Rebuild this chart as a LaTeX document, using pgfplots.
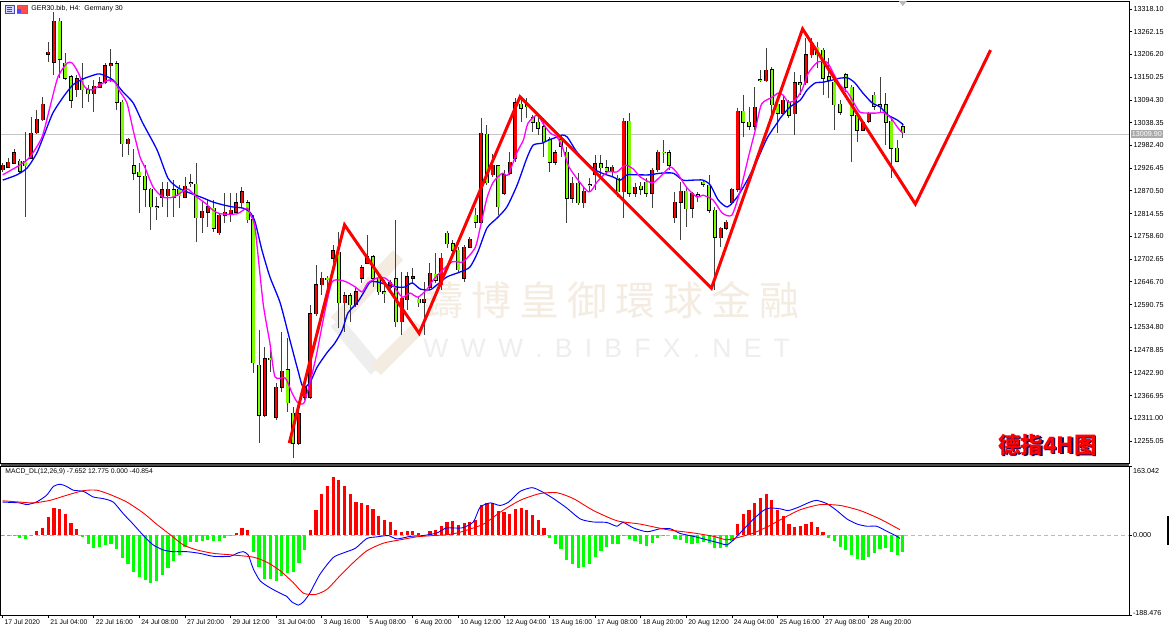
\documentclass[border=0pt]{standalone}
\usepackage{fontspec}
\setmainfont{Liberation Sans}
\newfontfamily\cjksc{Noto Sans CJK SC}
\newfontfamily\cjktc{Noto Sans CJK TC}
\usepackage{pgfplots}
\usepackage{pgfplotstable}
\pgfplotsset{compat=1.18}

\definecolor{candleup}{RGB}{255,0,0}
\definecolor{candledn}{RGB}{124,252,0}
\definecolor{histup}{RGB}{255,0,0}
\definecolor{histdn}{RGB}{0,255,0}
\definecolor{wmbeige}{RGB}{245,236,225}
\definecolor{wmgray}{RGB}{238,238,238}
\definecolor{maslow}{RGB}{0,0,255}
\definecolor{mafast}{RGB}{255,0,255}
\definecolor{pricebox}{RGB}{170,170,170}

% H4 candles, index i = bar number
\pgfplotstableread{
i o h l c
0 12922 12939 12917 12934
1 12929 12951 12927 12941
2 12939 12973 12937 12964
3 12944 12949 12914 12919
4 12944 13015 12806 12932
5 12951 13052 12949 13013
6 13013 13069 13010 13047
7 13045 13101 13042 13084
8 13207 13237 13187 13212
9 13187 13311 13156 13288
10 13288 13296 13148 13195
11 13185 13210 13143 13148
12 13151 13156 13074 13094
13 13119 13156 13101 13146
14 13146 13185 13074 13119
15 13119 13131 13089 13109
16 13109 13143 13064 13128
17 13126 13151 13124 13136
18 13138 13185 13133 13178
19 13178 13219 13138 13183
20 13183 13190 13069 13089
21 13089 13094 12954 12986
22 12986 13001 12959 12998
23 12932 12973 12897 12914
24 12917 12939 12816 12907
25 12907 12934 12831 12875
26 12875 12878 12774 12831
27 12831 12855 12799 12829
28 12855 12892 12831 12873
29 12858 12892 12806 12875
30 12873 12897 12806 12855
31 12875 12885 12828 12858
32 12855 12905 12853 12882
33 12890 12912 12880 12888
34 12887 12939 12745 12804
35 12804 12843 12767 12821
36 12818 12848 12782 12831
37 12828 12848 12769 12779
38 12767 12816 12762 12811
39 12811 12865 12791 12818
40 12816 12865 12794 12823
41 12818 12865 12816 12841
42 12841 12880 12831 12868
43 12841 12848 12791 12799
44 12799 12811 12422 12447
45 12442 12528 12250 12319
46 12319 12486 12314 12457
47 12459 12484 12425 12457
48 12314 12398 12307 12388
49 12388 12523 12376 12427
50 12430 12509 12326 12349
51 12324 12339 12213 12250
52 12250 12339 12245 12322
53 12363 12398 12356 12386
54 12363 12590 12358 12568
55 12568 12688 12563 12639
56 12639 12671 12614 12656
57 12656 12661 12632 12654
58 12705 12737 12693 12723
59 12720 12769 12533 12595
60 12595 12622 12523 12612
61 12612 12619 12548 12590
62 12590 12632 12585 12622
63 12656 12688 12644 12681
64 12693 12762 12691 12708
65 12708 12713 12634 12656
66 12656 12664 12614 12622
67 12622 12651 12595 12619
68 12632 12651 12622 12646
69 12654 12799 12536 12548
70 12548 12671 12516 12607
71 12602 12671 12577 12659
72 12656 12681 12644 12659
73 12604 12609 12585 12595
74 12597 12646 12516 12604
75 12634 12693 12627 12668
76 12666 12718 12644 12651
77 12639 12718 12627 12705
78 12767 12772 12730 12740
79 12740 12750 12718 12725
80 12725 12732 12671 12676
81 12656 12737 12646 12732
82 12732 12757 12730 12752
83 12811 12828 12779 12794
84 12794 13050 12791 13013
85 13010 13033 12885 12890
86 12910 12961 12905 12934
87 12932 12934 12811 12831
88 12865 12922 12860 12910
89 12914 12966 12910 12941
90 12951 13099 12941 13087
91 13084 13101 13040 13074
92 13082 13099 13050 13077
93 13050 13057 13015 13040
94 13040 13052 13008 13025
95 13028 13050 12954 12991
96 12996 13003 12917 12941
97 12941 12971 12934 12964
98 12996 13008 12954 12981
99 12966 12978 12791 12853
100 12853 12905 12841 12890
101 12890 12915 12836 12841
102 12841 12880 12828 12870
103 12886 12902 12868 12884
104 12910 12959 12873 12937
105 12937 12959 12905 12927
106 12927 12946 12910 12919
107 12919 12934 12905 12929
108 12902 12910 12855 12868
109 12868 13050 12804 13042
110 13042 13062 12855 12865
111 12865 12890 12855 12880
112 12882 12892 12860 12875
113 12892 12902 12855 12865
114 12865 12927 12828 12922
115 12922 12971 12917 12966
116 12966 12996 12939 12964
117 12964 12971 12922 12934
118 12804 12868 12791 12843
119 12843 12892 12750 12870
120 12870 12878 12782 12826
121 12828 12868 12804 12865
122 12861 12868 12843 12858
123 12892 12897 12880 12887
124 12885 12910 12816 12823
125 12823 12831 12627 12757
126 12755 12782 12732 12779
127 12779 12799 12774 12794
128 12841 12878 12836 12875
129 12875 13074 12868 13067
130 13067 13106 13003 13040
131 13040 13077 13020 13030
132 13030 13126 13020 13077
133 13144 13168 13138 13141
134 13141 13222 13138 13168
135 13168 13175 13057 13082
136 13084 13094 13013 13062
137 13062 13106 13057 13094
138 13089 13094 13050 13057
139 13060 13163 13008 13136
140 13136 13156 13106 13133
141 13136 13246 13131 13205
142 13205 13246 13197 13234
143 13224 13237 13173 13205
144 13217 13222 13106 13148
145 13151 13197 13099 13143
146 13138 13148 13020 13082
147 13084 13094 13057 13064
148 13156 13160 13114 13126
149 13126 13131 12941 13057
150 13057 13064 12991 13020
151 13020 13045 13020 13040
152 13042 13064 13037 13062
153 13106 13114 13069 13079
154 13082 13151 13064 13079
155 13082 13111 12983 13040
156 13042 13050 12902 12976
157 12976 12996 12941 12944
158 13028 13037 13001 13013
}\candles

% MACD histogram
\pgfplotstableread{
i v
0 -2
1 -1
2 -2
3 -7
4 -8
5 -1
6 9
7 18
8 42
9 64
10 62
11 50
12 28
13 14
14 -4
15 -21
16 -31
17 -28
18 -23
19 -20
20 -33
21 -55
22 -67
23 -86
24 -98
25 -106
26 -112
27 -108
28 -94
29 -77
30 -61
31 -46
32 -28
33 -17
34 -17
35 -15
36 -12
37 -15
38 -13
39 -7
40 -2
41 5
42 16
43 13
44 -39
45 -76
46 -104
47 -104
48 -108
49 -96
50 -90
51 -88
52 -65
53 -35
54 13
55 60
56 97
57 117
58 137
59 129
60 117
61 96
62 78
63 76
64 72
65 62
66 46
67 35
68 30
69 12
70 8
71 10
72 10
73 5
74 -1
75 10
76 11
77 21
78 32
79 33
80 24
81 29
82 30
83 35
84 70
85 76
86 76
87 56
88 54
89 50
90 62
91 63
92 59
93 47
94 35
95 17
96 -7
97 -21
98 -33
99 -59
100 -67
101 -77
102 -76
103 -67
104 -51
105 -37
106 -28
107 -20
108 -22
109 -1
110 -8
111 -15
112 -21
113 -25
114 -19
115 -7
116 -1
117 0
118 -9
119 -12
120 -19
121 -21
122 -19
123 -17
124 -19
125 -31
126 -31
127 -27
128 -13
129 26
130 50
131 60
132 76
133 88
134 98
135 82
136 60
137 46
138 27
139 19
140 21
141 27
142 30
143 19
144 7
145 -7
146 -15
147 -29
148 -35
149 -46
150 -57
151 -59
152 -51
153 -43
154 -33
155 -31
156 -39
157 -47
158 -39
}\hist

\newcommand{\tk}{\fontsize{3.6}{4}\selectfont}
\newcommand{\wsp}{\hspace{6.1pt}}

\begin{document}
\begin{tikzpicture}
\fill[white] (0,0) rectangle (585pt,-314.5pt);
\useasboundingbox (0,0) rectangle (585pt,-314.5pt);

% watermark (pixel grid: 1px = 0.5pt)
\begin{scope}[x=0.5pt,y=-0.5pt]
  \draw[wmbeige, line width=7pt] (398,255) -- (336,322);
  \draw[wmgray, line width=7pt] (336,322) -- (376,370);
  \draw[wmbeige, line width=7pt] (376,370) -- (420,326);
  \node[anchor=west, inner sep=0pt, text=wmbeige,
        font=\cjktc\fontsize{20}{20}\selectfont] at (423,300)
    {鑄\hspace{4pt}博\hspace{4pt}皇\hspace{4pt}御\hspace{4pt}環\hspace{4pt}球\hspace{4pt}金\hspace{4pt}融};
  \node[anchor=west, inner sep=0pt, text=wmgray,
        font=\fontsize{13.3}{14}\selectfont] at (423,348)
    {W\wsp W\wsp W\wsp .\wsp B\wsp I\wsp B\wsp F\wsp X\wsp .\wsp N\wsp E\wsp T};
\end{scope}

% price panel
\begin{axis}[
    at={(0.5pt,-0.5pt)}, anchor=north west,
    width=564pt, height=231pt, scale only axis,
    xmin=-0.3, xmax=197.7,
    ymin=12200.9, ymax=13337.7,
    xtick=\empty,
    ytick={12255.05,12311.00,12366.95,12422.90,12478.85,12534.80,12590.75,
           12646.70,12702.65,12758.60,12814.55,12870.50,12926.45,12982.40,
           13038.35,13094.30,13150.25,13206.20,13262.15,13318.10},
    ytick pos=right, yticklabel pos=right,
    scaled y ticks=false,
    tick align=outside, major tick length=1.5pt,
    every tick/.style={black, line width=0.4pt},
    yticklabel style={anchor=west, inner sep=0.6pt, font=\tk,
        /pgf/number format/fixed, /pgf/number format/fixed zerofill,
        /pgf/number format/precision=2, /pgf/number format/1000 sep={},
        /pgf/number format/assume math mode=true},
    axis line style={black, line width=0.5pt},
    clip mode=individual,
]
% current price line
\addplot[gray!45, line width=0.5pt] coordinates {(-0.3,13009.9) (197.7,13009.9)};

% wicks
\addplot[draw=none, mark=none,
    error bars/.cd, y dir=both, y explicit, error mark=none,
    error bar style={draw=black!75, line width=0.5pt}]
  table[x=i, y expr={(\thisrow{h}+\thisrow{l})/2},
        y error expr={(\thisrow{h}-\thisrow{l})/2}] {\candles};
% body outlines
\addplot[draw=none, mark=none,
    error bars/.cd, y dir=both, y explicit, error mark=none,
    error bar style={draw=black, line width=2pt}]
  table[x=i, y expr={(\thisrow{o}+\thisrow{c})/2},
        y error expr={abs(\thisrow{c}-\thisrow{o})/2+1.2}] {\candles};
% rising bodies
\addplot[draw=none, mark=none,
    restrict expr to domain={\thisrow{c}-\thisrow{o}}{0:5000},
    error bars/.cd, y dir=both, y explicit, error mark=none,
    error bar style={draw=candleup, line width=1.2pt}]
  table[x=i, y expr={(\thisrow{o}+\thisrow{c})/2},
        y error expr={(\thisrow{c}-\thisrow{o})/2}] {\candles};
% falling bodies
\addplot[draw=none, mark=none,
    restrict expr to domain={\thisrow{o}-\thisrow{c}}{0:5000},
    error bars/.cd, y dir=both, y explicit, error mark=none,
    error bar style={draw=candledn, line width=1.2pt}]
  table[x=i, y expr={(\thisrow{o}+\thisrow{c})/2},
        y error expr={(\thisrow{o}-\thisrow{c})/2}] {\candles};

% slow MA
\addplot[maslow, line width=0.65pt, smooth, tension=0.4] coordinates {
(0,12897) (2.5,12910) (4.3,12927) (6.0,12964) (7.4,13013) (8.8,13062)
(10.6,13101) (12.3,13131) (14.1,13146) (16.6,13158) (17.6,13156) (19.4,13143)
(21.1,13114) (22.9,13087) (24.6,13037) (27.1,12971) (29.0,12902) (30.8,12878)
(32.9,12865) (35.2,12853) (36.9,12843) (38.7,12836) (40.4,12831) (42.2,12828)
(43.4,12818) (44.3,12794) (45.5,12725) (46.9,12659) (48.7,12595) (50.4,12504)
(51.8,12430) (52.7,12388) (53.9,12398) (55.2,12437) (56.9,12472) (58.3,12496)
(59.6,12528) (60.6,12570) (62.2,12595) (63.3,12619) (64.5,12646) (65.9,12646)
(67.5,12639) (69.2,12634) (70.6,12634) (71.9,12644) (73.3,12629) (75.0,12627)
(76.2,12639) (78.0,12659) (80.3,12671) (82.0,12683) (83.4,12720) (85.0,12779)
(86.8,12804) (88.5,12831) (90.3,12885) (92.0,12951) (93.1,12983) (94.7,12988)
(95.9,12996) (97.3,13003) (98.2,13008) (99.1,13003) (100.8,12966) (103.5,12927)
(105.2,12914) (107.1,12905) (108.4,12897) (109.6,12910) (111.4,12910) (113.6,12910)
(115.4,12914) (117.7,12914) (119.4,12897) (121.2,12897) (122.9,12897) (124.2,12885)
(125.6,12848) (127.2,12831) (128.9,12855) (130.7,12897) (132.4,12945) (134.2,13001)
(135.9,13037) (136.5,13050) (138.2,13077) (140.0,13094) (141.2,13119) (142.6,13136)
(144.0,13138) (145.6,13143) (147.0,13148) (148.4,13148) (149.6,13136) (151.0,13111)
(152.6,13087) (154.0,13077) (155.4,13057) (157.0,13045) (158.1,13033)
};
% fast MA
\addplot[mafast, line width=0.65pt, smooth, tension=0.4] coordinates {
(0,12910) (3.0,12934) (4.8,12954) (6.9,13003) (8.3,13077) (9.7,13151)
(11.3,13185) (12.2,13185) (13.2,13163) (14.4,13126) (15.7,13119) (17.1,13131)
(18.5,13143) (19.7,13138) (20.6,13114) (21.8,13087) (22.9,13020) (24.1,12954)
(25.0,12927) (26.4,12880) (28.1,12855) (29.9,12855) (31.5,12868) (32.5,12875)
(34.1,12855) (35.5,12841) (36.9,12823) (38.2,12814) (41.1,12814) (42.9,12828)
(43.6,12808) (44.3,12779) (45.7,12595) (46.9,12496) (47.8,12413) (49.6,12410)
(50.8,12373) (51.8,12349) (52.9,12349) (53.9,12398) (55.0,12462) (56.6,12577)
(57.8,12646) (59.2,12651) (60.4,12646) (61.9,12634) (63.1,12622) (64.1,12644)
(65.7,12656) (67.1,12656) (68.5,12639) (70.1,12609) (71.5,12619) (72.9,12609)
(74.5,12629) (75.5,12650) (76.9,12671) (78.9,12696) (80.8,12696) (82.9,12730)
(83.8,12779) (85.0,12853) (86.1,12892) (87.7,12914) (88.7,12910) (90.3,12966)
(91.4,12996) (92.2,13037) (93.8,13057) (94.9,13035) (96.1,13013) (97.3,13003)
(98.3,12976) (99.5,12927) (102.8,12868) (104.3,12892) (106.1,12917) (107.8,12917)
(109.3,12934) (110.7,12924) (111.9,12905) (114.0,12890) (115.4,12905) (117.2,12929)
(118.4,12914) (120.1,12878) (121.9,12855) (122.9,12860) (124.7,12848) (126.3,12816)
(128.0,12811) (129.5,12873) (130.9,12954) (132.1,13020) (133.2,13084) (135.1,13101)
(136.1,13111) (137.0,13106) (137.9,13089) (139.1,13094) (140.3,13119) (141.4,13160)
(143.0,13187) (144.7,13187) (145.8,13160) (147.0,13131) (148.4,13111) (149.6,13082)
(150.5,13064) (151.9,13062) (153.5,13062) (154.5,13064) (155.9,13050) (157.0,13028)
(157.9,13013)
};
% hand-drawn wave
\addplot[red, line width=1.5pt] coordinates {
(50.3,12250) (60.0,12787) (73.1,12520) (90.8,13102) (124.4,12631)
(140.4,13269) (160.2,12838) (173.4,13217)
};

% separator between the panels
\draw[black!70, line width=1pt] ([yshift=-0.75pt]rel axis cs:0,0) -- ([yshift=-0.75pt]rel axis cs:1,0);
% chart shift marker
\fill[gray!55] ([xshift=-2pt]axis cs:158,13337.7) -- ([xshift=2pt]axis cs:158,13337.7)
   -- ([yshift=-2.5pt]axis cs:158,13337.7) -- cycle;
% current price box
\node[fill=pricebox, text=white, inner sep=0.6pt, anchor=west, font=\tk]
   at ([xshift=0.6pt]axis cs:197.7,13009.9) {13009.90};
\end{axis}

% MACD panel
\begin{axis}[
    at={(0.5pt,-233pt)}, anchor=north west,
    width=564pt, height=74.5pt, scale only axis,
    xmin=-0.3, xmax=197.7,
    ymin=-188.476, ymax=163.042,
    xtick={0,8,...,152},
    xticklabels={17 Jul 2020, 21 Jul 04:00, 22 Jul 16:00, 24 Jul 08:00,
       27 Jul 20:00, 29 Jul 12:00, 31 Jul 04:00, 3 Aug 16:00, 5 Aug 08:00,
       6 Aug 20:00, 10 Aug 12:00, 12 Aug 04:00, 13 Aug 16:00, 17 Aug 08:00,
       18 Aug 20:00, 20 Aug 12:00, 24 Aug 04:00, 25 Aug 16:00, 27 Aug 08:00,
       28 Aug 20:00},
    xtick pos=bottom,
    xticklabel style={anchor=north west, inner sep=0.5pt, xshift=0.3pt,
       font=\fontsize{3.4}{4}\selectfont},
    ytick={-188.476,0,163.042}, yticklabels={,,},
    ytick pos=right,
    tick align=outside, major tick length=1.5pt,
    every tick/.style={black, line width=0.4pt},
    axis line style={black, line width=0.5pt},
    clip mode=individual,
]
\addplot[gray!55, line width=0.4pt, dash pattern=on 2pt off 1.5pt]
   coordinates {(-0.3,0) (197.7,0)};
\addplot[ycomb, histup, line width=1.6pt, restrict y to domain=0:1000]
   table[x=i, y=v] {\hist};
\addplot[ycomb, histdn, line width=1.6pt, restrict y to domain=-1000:0]
   table[x=i, y=v] {\hist};
% MACD main
\addplot[blue, line width=0.45pt, smooth, tension=0.4] coordinates {
(0,78) (3.0,76) (4.2,72) (5.9,78) (7.7,94) (8.9,115) (10.1,120) (11.2,115)
(12.4,106) (14.2,103) (15.9,90) (17.7,86) (19.4,78) (21.2,50) (22.9,26)
(24.7,-1) (26.4,-23) (28.2,-35) (29.9,-39) (32.3,-39) (34.6,-43) (37.0,-50)
(39.9,-50) (41.1,-43) (42.2,-39) (43.1,-47) (44.0,-80) (45.2,-108) (46.9,-124)
(48.7,-137) (49.9,-145) (50.7,-157) (51.9,-165) (52.8,-157) (53.9,-137)
(55.7,-92) (58.0,-53) (59.8,-42) (61.9,-31) (63.9,-8) (65.7,-4) (67.7,-1)
(69.2,-9) (71.5,-3) (73.8,-1) (76.2,5) (77.9,17) (80.6,17) (82.6,31)
(83.8,66) (85.6,76) (87.3,70) (88.8,78) (90.8,103) (92.9,112) (94.6,103)
(96.7,86) (99.0,64) (101.4,38) (103.7,31) (106.0,30) (107.8,21) (108.9,30)
(110.7,17) (113.1,8) (115.4,15) (117.2,15) (118.9,4) (121.3,-3) (123.6,-11)
(125.9,-19) (127.1,-23) (128.3,-11) (130.0,13) (131.8,38) (133.5,58)
(134.7,64) (136.5,62) (137.9,58) (139.7,66) (141.7,78) (142.9,82) (144.7,74)
(146.4,58) (148.2,38) (150.0,26) (151.7,21) (153.4,21) (155.2,9) (156.7,-1)
(157.5,-7.7)
};
% signal
\addplot[red, line width=0.45pt, smooth, tension=0.4] coordinates {
(0,81) (3.0,78) (5.4,76) (8.3,82) (11.2,94) (14.2,105) (16.5,106) (18.8,96)
(21.8,78) (24.7,52) (27.0,26) (29.4,1) (31.7,-23) (34.1,-35) (37.0,-43)
(40.5,-47) (44.0,-52) (46.4,-64) (48.7,-84) (51.0,-112) (52.8,-137)
(54.9,-140) (56.9,-128) (59.2,-96) (61.6,-64) (63.9,-37) (66.8,-19)
(69.8,-11) (72.7,-4) (75.6,-1) (78.0,1) (80.3,7) (84.4,26) (87.3,54)
(90.8,82) (94.3,98) (97.3,100) (100.2,86) (103.7,58) (107.8,34) (111.9,26)
(116.6,13) (121.3,5) (124.8,-3) (127.1,-11) (129.5,-4) (131.8,5) (134.4,21)
(137.3,42) (140.0,60) (143.5,72) (147.0,70) (150.5,58) (154.0,38) (157.5,12.8)
};
\node[anchor=west, inner sep=0pt, font=\fontsize{3.4}{4}\selectfont]
   at ([xshift=2pt,yshift=-3pt]rel axis cs:0,1)
   {MACD\_DL(12,26,9) -7.652 12.775 0.000 -40.854};
\node[anchor=north west, inner sep=0.6pt, font=\tk]
   at ([xshift=1.2pt,yshift=-0.5pt]rel axis cs:1,1) {163.042};
\node[anchor=west, inner sep=0.6pt, font=\tk]
   at ([xshift=1.2pt]axis cs:197.7,0) {0.000};
\node[anchor=west, inner sep=0.6pt, font=\tk]
   at ([xshift=1.2pt,yshift=1pt]rel axis cs:1,0) {-188.476};
\end{axis}

% header, caption and marks (pixel grid)
\begin{scope}[x=0.5pt,y=-0.5pt]
  \filldraw[fill=blue!15, draw=blue!45!gray, line width=0.3pt] (5,5) rectangle (14,13);
  \draw[blue!45!gray, line width=0.3pt] (7,7) -- (12,7) (7,9) -- (12,9) (7,11) -- (12,11);
  \filldraw[fill=red!70, draw=blue!60, line width=0.3pt] (17,5) rectangle (27,13);
  \fill[blue!70] (17,9) rectangle (21,13);
  \node[anchor=west, inner sep=0pt, font=\fontsize{3.5}{4}\selectfont] at (31,9)
     {GER30.bib, H4:\ \ Germany 30};
  \node[anchor=west, inner sep=0pt, text=blue!40!black,
        font=\cjksc\bfseries\fontsize{11.2}{12}\selectfont] at (999.2,446.2) {德指4H图};
  \node[anchor=west, inner sep=0pt, text=red,
        font=\cjksc\bfseries\fontsize{11.2}{12}\selectfont] at (998,445) {德指4H图};
  \draw[black, line width=0.6pt] (1168,516) -- (1168,545);
\end{scope}
\end{tikzpicture}
\end{document}
